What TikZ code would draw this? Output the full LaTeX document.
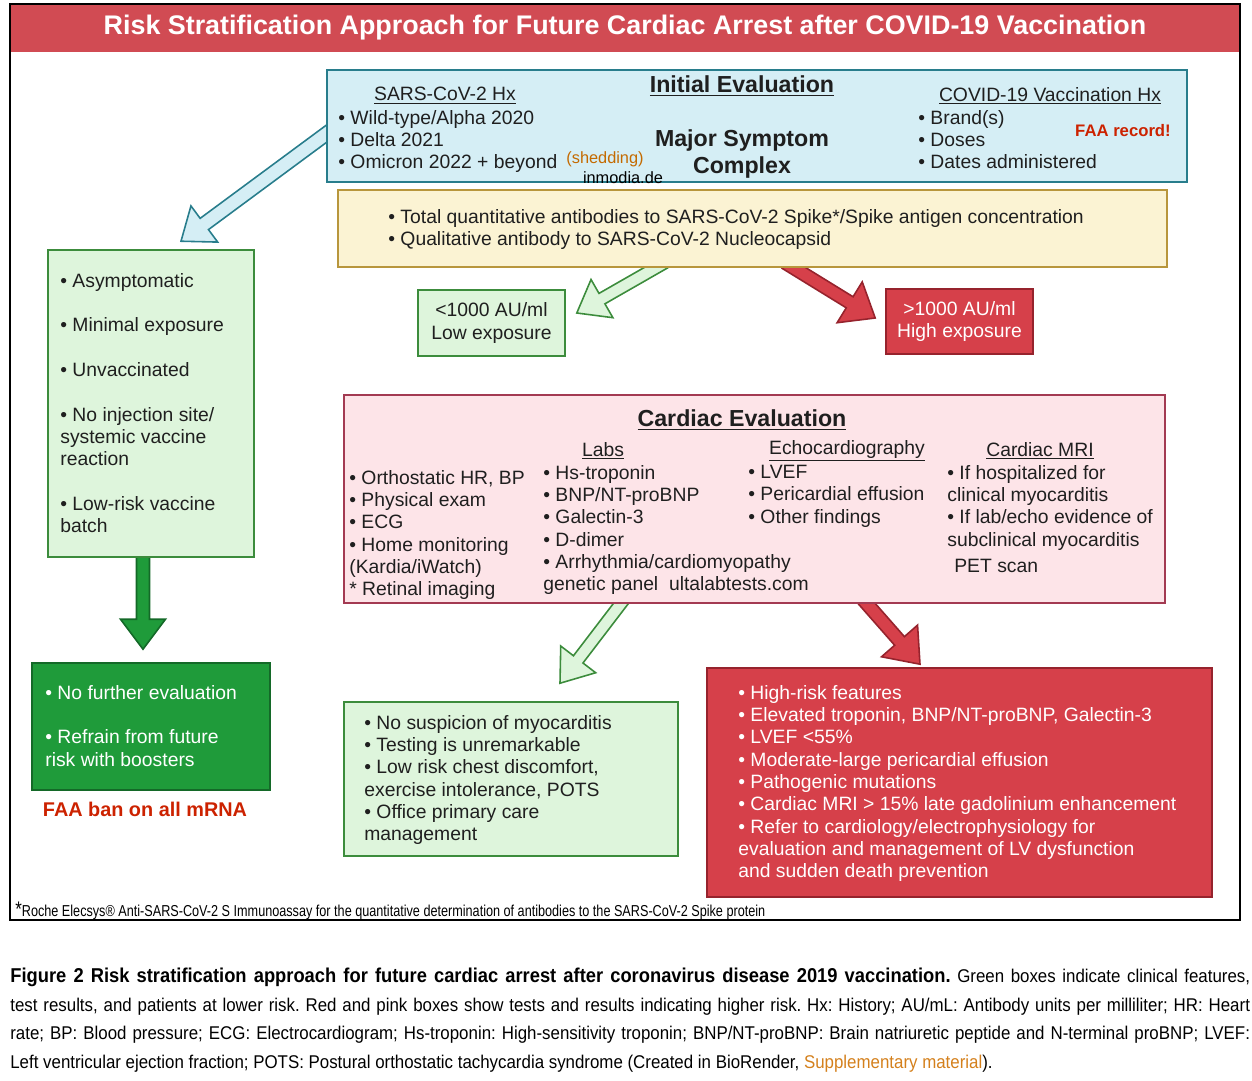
\documentclass[tikz,border=0pt]{standalone}
\usepackage{fontspec}
\setmainfont{Liberation Sans}
\newfontfamily\capfont{Liberation Sans}[FakeStretch=0.915]
\newfontfamily\notefont{Liberation Sans}[FakeStretch=0.8]
\usepackage{xcolor}
\usetikzlibrary{calc,fit}

\definecolor{titlered}{RGB}{209,75,83}
\definecolor{boxred}{RGB}{214,64,74}
\definecolor{boxredline}{RGB}{150,35,45}
\definecolor{iceblue}{RGB}{213,238,245}
\definecolor{iceline}{RGB}{40,125,140}
\definecolor{abyellow}{RGB}{251,243,211}
\definecolor{abline}{RGB}{184,150,60}
\definecolor{palegreen}{RGB}{222,245,220}
\definecolor{paleline}{RGB}{60,140,60}
\definecolor{deepgreen}{RGB}{31,155,58}
\definecolor{deepline}{RGB}{20,105,40}
\definecolor{cardpink}{RGB}{253,228,232}
\definecolor{cardline}{RGB}{163,58,82}
\definecolor{faared}{RGB}{204,34,0}
\definecolor{shedorange}{RGB}{196,106,0}
\definecolor{supporange}{RGB}{212,128,28}

\pgfdeclarelayer{back}
\pgfsetlayers{back,main}

% block arrow: [style]{from}{to}{shaft half width}{head half width}{head length}
\newcommand{\blockarrow}[6][]{%
  \coordinate (ba-h) at ($(#3)!#6!(#2)$);
  \draw[#1] ($(#2)!#4!90:(#3)$) -- ($(ba-h)!#4!90:(#3)$) -- ($(ba-h)!#5!90:(#3)$) -- (#3)
    -- ($(ba-h)!#5!-90:(#3)$) -- ($(ba-h)!#4!-90:(#3)$) -- ($(#2)!#4!-90:(#3)$) -- cycle;}

\begin{document}
\begin{tikzpicture}[x=0.02cm, y=-0.02cm,
  box/.style={draw, line width=0.9pt, inner sep=0pt},
  txt/.style={inner sep=0pt, anchor=north west, align=left, font=\fontsize{11}{12.7}\selectfont, text=black!88},
  hdr/.style={inner sep=0pt, align=center, font=\fontsize{13.2}{15.3}\selectfont\bfseries, text=black!88},
  sub/.style={inner sep=0pt, font=\fontsize{11}{12.7}\selectfont, text=black!88},
  faa/.style={inner sep=0pt, font=\bfseries, text=faared},
  blockline/.style={line width=0.9pt, line join=miter}]
  \useasboundingbox (0,0) rectangle (1252,1080);

  % Frame and title band
  \fill[titlered] (10,4) rectangle (1240,52);
  \draw[line width=1pt] (10,4) rectangle (1240,920);
  \node[inner sep=0pt, text=white, font=\fontsize{15.3}{18}\selectfont\bfseries] (title) at (625,28)
    {Risk Stratification Approach for Future Cardiac Arrest after COVID-19 Vaccination};

  % Initial evaluation
  \node[box, fill=iceblue, draw=iceline, fit={(327,70) (1187,182)}] (ievbox) {};
  \node[hdr] (ievhead) at (742,86) {\underline{Initial Evaluation}};
  \node[sub] (sarshead) at (445,96) {\underline{SARS-CoV-2 Hx}};
  \node[txt] (sarslist) at (338,110) {• Wild-type/Alpha 2020\\• Delta 2021\\• Omicron 2022 + beyond};
  \node[inner sep=0pt, font=\fontsize{9.3}{11}\selectfont, text=shedorange] (shed) at (605,159.5) {(shedding)};
  \node[inner sep=0pt, font=\fontsize{9.3}{11}\selectfont] (inmodia) at (623,177.5) {inmodia.de};
  \node[hdr] (major) at (742,154) {Major Symptom\\Complex};
  \node[sub] (vacchead) at (1050,96) {\underline{COVID-19 Vaccination Hx}};
  \node[txt] (vacclist) at (918,110) {• Brand(s)\\• Doses\\• Dates administered};
  \node[faa, font=\fontsize{9.5}{11}\selectfont\bfseries] (faarec) at (1123,131) {FAA record!};

  % Antibody testing
  \node[box, fill=abyellow, draw=abline, fit={(338,190) (1167,267)}] (abbox) {};
  \node[txt] (ablist) at (388,209) {• Total quantitative antibodies to SARS-CoV-2 Spike*/Spike antigen concentration\\
    • Qualitative antibody to SARS-CoV-2 Nucleocapsid};

  % Exposure results
  \node[box, fill=palegreen, draw=paleline, fit={(418,290) (565,356)}] (lowbox) {};
  \node[sub, align=center] (lowtxt) at (lowbox.center) {<1000 AU/ml\\Low exposure};
  \node[box, fill=boxred, draw=boxredline, fit={(886,289) (1033,354)}] (highbox) {};
  \node[sub, align=center, text=white] (hightxt) at (highbox.center) {>1000 AU/ml\\High exposure};

  % Low-risk features column
  \node[box, fill=palegreen, draw=paleline, fit={(48,250) (254,557)}] (lowside) {};
  \node[txt] (sidelist) at (60,273) {• Asymptomatic\\[12.7pt]• Minimal exposure\\[12.7pt]• Unvaccinated\\[12.7pt]
    • No injection site/\\systemic vaccine\\reaction\\[12.7pt]• Low-risk vaccine\\batch};
  \node[box, fill=deepgreen, draw=deepline, fit={(32,663) (270,790)}] (nofurther) {};
  \node[txt, text=white] (nflist) at (45,685) {• No further evaluation\\[12.7pt]• Refrain from future\\risk with boosters};
  \node[faa, font=\fontsize{11.3}{13}\selectfont\bfseries] (faaban) at (145,809) {FAA ban on all mRNA};

  % Cardiac evaluation
  \node[box, fill=cardpink, draw=cardline, fit={(344,395) (1165,603)}] (cardbox) {};
  \node[hdr] (cardhead) at (742,420) {\underline{Cardiac Evaluation}};
  \node[txt] (basiclist) at (349,470) {• Orthostatic HR, BP\\• Physical exam\\• ECG\\• Home monitoring\\(Kardia/iWatch)\\* Retinal imaging};
  \node[sub] (labhead) at (603,451) {\underline{Labs}};
  \node[txt] (lablist) at (543,465) {• Hs-troponin\\• BNP/NT-proBNP\\• Galectin-3\\• D-dimer\\• Arrhythmia/cardiomyopathy\\genetic panel\ \ ultalabtests.com};
  \node[sub] (echohead) at (847,451) {\underline{Echocardiography}};
  \node[txt] (echolist) at (748,465) {• LVEF\\• Pericardial effusion\\• Other findings};
  \node[sub] (mrihead) at (1040,451) {\underline{Cardiac MRI}};
  \node[txt] (mrilist) at (947,465) {• If hospitalized for\\clinical myocarditis\\• If lab/echo evidence of\\subclinical myocarditis};
  \node[txt] (pet) at (954,559) {PET scan};

  % Outcomes
  \node[box, fill=palegreen, draw=paleline, fit={(344,702) (678,856)}] (lowrisk) {};
  \node[txt] (lowlist) at (364,715) {• No suspicion of myocarditis\\• Testing is unremarkable\\• Low risk chest discomfort,\\
    exercise intolerance, POTS\\• Office primary care\\management};
  \node[box, fill=boxred, draw=boxredline, fit={(707,668) (1212,897)}] (highrisk) {};
  \node[txt, text=white] (highlist) at (738,685) {• High-risk features\\• Elevated troponin, BNP/NT-proBNP, Galectin-3\\
    • LVEF <55\%\\• Moderate-large pericardial effusion\\• Pathogenic mutations\\• Cardiac MRI > 15\% late gadolinium enhancement\\
    • Refer to cardiology/electrophysiology for\\evaluation and management of LV dysfunction\\and sudden death prevention};

  % Arrows (behind the boxes)
  \coordinate (a1s) at ($(ievbox.west)+(8,2)$);
  \coordinate (a1e) at ($(lowside.north)+(30,-8)$);
  \coordinate (a2s) at ($(abbox.south)+(-88,-5)$);
  \coordinate (a2e) at ($(lowbox.east)+(11,-10)$);
  \coordinate (a3s) at ($(abbox.south)+(33,-5)$);
  \coordinate (a3e) at ($(highbox.west)+(-10,-3.5)$);
  \coordinate (a4s) at ($(lowside.south)+(-8,-5)$);
  \coordinate (a4e) at ($(nofurther.north)+(-8,-13)$);
  \coordinate (a5s) at ($(cardbox.south)+(-130,-5)$);
  \coordinate (a5e) at ($(lowrisk.north)+(49,-18)$);
  \coordinate (a6s) at ($(cardbox.south)+(108,-5)$);
  \coordinate (a6e) at ($(highrisk.north)+(-39.5,-3)$);
  \begin{pgfonlayer}{back}
    \blockarrow[blockline, fill=iceblue, draw=iceline]{a1s}{a1e}{0.14cm}{0.45cm}{0.58cm}
    \blockarrow[blockline, fill=palegreen, draw=paleline]{a2s}{a2e}{0.12cm}{0.44cm}{0.58cm}
    \blockarrow[blockline, fill=boxred, draw=boxredline]{a3s}{a3e}{0.13cm}{0.48cm}{0.6cm}
    \blockarrow[blockline, fill=deepgreen, draw=deepline]{a4s}{a4e}{0.13cm}{0.45cm}{0.6cm}
    \blockarrow[blockline, fill=palegreen, draw=paleline]{a5s}{a5e}{0.12cm}{0.44cm}{0.6cm}
    \blockarrow[blockline, fill=boxred, draw=boxredline]{a6s}{a6e}{0.13cm}{0.48cm}{0.62cm}
  \end{pgfonlayer}

  % Footnote and caption
  \node[inner sep=0pt, anchor=west, font=\notefont\fontsize{9}{10}\selectfont] (footnote) at (15,911)
    {{\fontsize{12}{10}\selectfont*}Roche Elecsys® Anti-SARS-CoV-2 S Immunoassay for the quantitative determination of antibodies to the SARS-CoV-2 Spike protein};
  \node[inner sep=0pt, anchor=north west, text width=24.8cm, align=justify,
    font=\capfont\fontsize{10.5}{16.2}\selectfont\frenchspacing] (caption) at (10,968)
    {{\fontsize{11.4}{16.2}\selectfont\bfseries Figure 2 Risk stratification approach for future cardiac arrest after coronavirus disease 2019 vaccination.} Green boxes indicate clinical features,\linebreak
    test results, and patients at lower risk. Red and pink boxes show tests and results indicating higher risk. Hx: History; AU/mL: Antibody units per milliliter; HR: Heart\linebreak
    rate; BP: Blood pressure; ECG: Electrocardiogram; Hs-troponin: High-sensitivity troponin; BNP/NT-proBNP: Brain natriuretic peptide and N-terminal proBNP; LVEF:\linebreak
    Left ventricular ejection fraction; POTS: Postural orthostatic tachycardia syndrome (Created in BioRender, \textcolor{supporange}{Supplementary material}).};
\end{tikzpicture}
\end{document}
